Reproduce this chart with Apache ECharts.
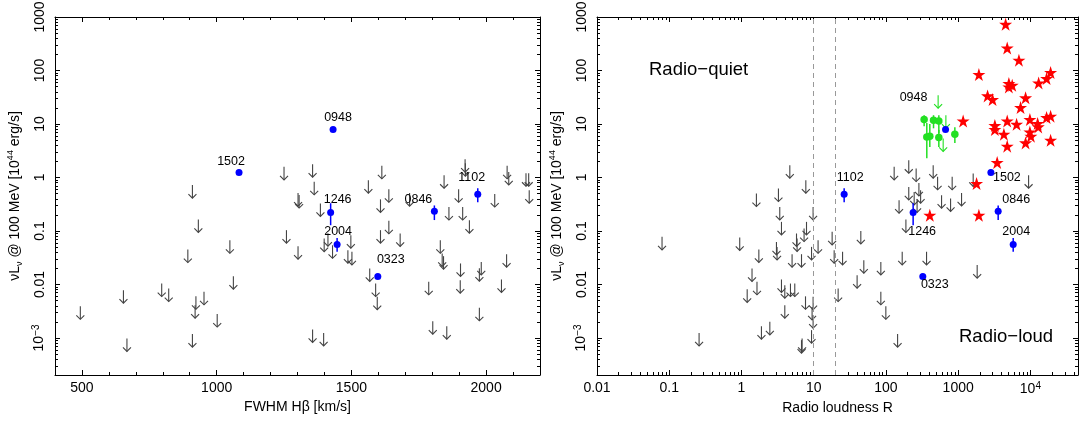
<!DOCTYPE html>
<html>
<head>
<meta charset="utf-8">
<script src="https://cdn.jsdelivr.net/npm/echarts@6/dist/echarts.min.js"></script>
<style>
html, body { margin: 0; padding: 0; background: #fff; }
#chart { width: 1080px; height: 421px; }
</style>
</head>
<body>
<div id="chart"></div>
<script>
var FONT = '"Liberation Sans", Arial, sans-serif';

// tick values / labels
var fwhmTicks = [500, 1000, 1500, 2000];
var lumTicks = [0.001, 0.01, 0.1, 1, 10, 100, 1000];
var lumTickText = ['{p|10}{s|\u22123}', '0.01', '0.1', '1', '10', '100', '1000'];
var rTicks = [0.01, 0.1, 1, 10, 100, 1000, 10000];
var rTickText = ['0.01', '0.1', '1', '10', '100', '1000', '{p|10}{s|4}'];

// labelled sources (blue)
var blueNames = ['0948', '1502', '1102', '1246', '0846', '2004', '0323'];
var blueFwhm = [1432, 1083, 1969, 1423, 1808, 1447, 1598];
var blueR = [669, 2838, 26.4, 238, 3580, 5780, 324];
var blueLum = [7.9, 1.24, 0.487, 0.222, 0.234, 0.056, 0.0141];
var blueLumLo = [null, null, 0.345, 0.128, 0.16, 0.041, null];
var blueLumHi = [null, null, 0.63, 0.33, 0.30, 0.074, null];

// upper limits, left panel
var limFwhm = [910, 1250, 1356, 1362, 1302, 1306, 1613, 1563, 1639, 1608,
    1716, 1844, 1922, 1923, 1898, 2032, 2078, 2084, 2148, 2158,
    2160, 932, 893, 1049, 1062, 796, 822, 654, 923, 953,
    920, 494, 1002, 910, 667, 1385, 1862, 1913, 1938, 1259,
    1302, 1399, 1413, 1430, 1498, 1487, 1502, 1608, 1639, 1681,
    1568, 1590, 1596, 1830, 1837, 1842, 1787, 1905, 1904, 1982,
    1975, 2076, 2057, 1975, 1802, 1854, 1356, 1397];
var limLum = [0.72, 1.58, 1.77, 0.83, 0.51, 0.47, 1.65, 0.89, 0.60, 0.39,
    0.51, 1.10, 2.20, 1.85, 0.60, 0.49, 1.65, 1.27, 1.20, 1.20,
    0.58, 0.164, 0.045, 0.067, 0.0143, 0.0104, 0.0084, 0.0078, 0.0060, 0.0073,
    0.0041, 0.0039, 0.0028, 0.00118, 0.00098, 0.327, 0.28, 0.28, 0.159, 0.1035,
    0.052, 0.072, 0.091, 0.054, 0.0835, 0.0438, 0.0407, 0.1035, 0.155, 0.0898,
    0.0199, 0.0104, 0.0059, 0.067, 0.038, 0.0338, 0.0112, 0.0247, 0.012, 0.0264,
    0.0202, 0.0368, 0.0124, 0.00366, 0.00206, 0.00166, 0.00144, 0.00124];

// upper limits, right panel
var limR = [4.67, 7.78, 1.61, 3.25, 130, 207, 262, 451, 519, 826,
    1614, 9440, 207, 246, 286, 302, 589, 785, 1114, 152,
    270, 3.39, 3.58, 7.95, 5.78, 5.89, 7.36, 0.0795, 0.946, 3.05,
    3.11, 1.74, 5.02, 6.78, 1.40, 1.64, 1.20, 3.58, 3.98, 4.77,
    5.47, 7.70, 3.98, 1.89, 2.47, 0.259, 6.91, 9.81, 11.5, 18.0,
    19.2, 25.1, 44.9, 9.33, 49.4, 85, 39.9, 168, 365, 189,
    1833, 21.8, 9.81, 9.5, 9.81, 85, 99.7, 9.33, 6.78, 145];
var limRLum = [1.70, 0.89, 0.50, 0.62, 1.58, 2.10, 1.47, 1.70, 1.03, 1.03,
    1.19, 1.10, 0.667, 0.538, 0.79, 0.58, 0.467, 0.405, 0.515, 0.377,
    0.388, 0.282, 0.148, 0.148, 0.0898, 0.0724, 0.111, 0.0776, 0.0756, 0.0625,
    0.0504, 0.0451, 0.0368, 0.0368, 0.0199, 0.0112, 0.0081, 0.0124, 0.0097, 0.0104,
    0.0104, 0.0060, 0.0041, 0.00166, 0.0020, 0.00124, 0.00098, 0.282, 0.067, 0.0962,
    0.0438, 0.0407, 0.1004, 0.0504, 0.0285, 0.0264, 0.0149, 0.0407, 0.0407, 0.164,
    0.023, 0.0084, 0.0059, 0.0038, 0.00267, 0.0073, 0.0039, 0.0014, 0.00091, 0.00118];

// radio-loud comparison sample (red stars)
var starR = [4540, 4775, 6935, 1936, 19050, 16760, 13000, 5035, 5600, 5035,
    2553, 2993, 8576, 7310, 1172, 3222, 3222, 4775, 6440, 9840,
    12590, 12830, 16760, 19050, 4296, 9840, 10160, 8576, 4775, 19050,
    3467, 1799, 405, 1936];
var starLum = [733, 264, 156, 84, 91.8, 70.8, 58.6, 57.1, 53.1, 49.3,
    33.5, 28.7, 30.8, 20.3, 11.4, 9.37, 7.89, 11.4, 9.91, 12.1,
    10.2, 8.83, 13.2, 14.0, 6.45, 7.11, 5.92, 4.43, 3.85, 4.98,
    1.91, 0.773, 0.197, 0.197];

// green sample
var greenR = [338, 456, 540, 368, 405, 540, 900];
var greenLum = [12.1, 11.8, 11.4, 5.74, 5.92, 5.6, 6.45];
var greenLo = [9.1, 8.3, 6.7, 2.3, 3.7, 3.7, 4.4];
var greenHi = [14.6, 14.6, 14.6, 10.4, 10.0, 7.7, 8.7];
var greenLimR = [528, 676, 620];
var greenLimLum = [34.5, 14.6, 5.36];

var offL = {'1502': [-8, -11], '0948': [5, -12], '1102': [-6, -17], '1246': [7, -13],
    '0846': [-16, -12], '2004': [1, -13], '0323': [13, -17]};
var offR = {'0948': [-32, -32], '1102': [6, -17], '1502': [16, 5], '0846': [18, -12],
    '1246': [9, 19], '2004': [3, -13], '0323': [12, 8]};

var STAR = 'path://M12,0 L14.7,8.3 L23.4,8.3 L16.4,13.4 L19.1,21.7 L12,16.6 L4.9,21.7 L7.6,13.4 L0.6,8.3 L9.3,8.3 Z';

// minor ticks
var fwhmMinor = [];
for (var f = 500; f < 2200; f += 100) { if (f % 500 !== 0) fwhmMinor.push(f); }
function logMinor(lo, hi) {
    var out = [];
    for (var e = -5; e <= 5; e++) {
        for (var k = 2; k <= 9; k++) {
            var v = k * Math.pow(10, e);
            if (v > lo && v < hi) out.push(v);
        }
    }
    return out;
}
var LUM_MIN = 2.03e-4, LUM_MAX = 1000;
var R_MIN = 0.01, R_MAX = 45600;

function fmtFrom(vals, texts) {
    return function (v) {
        for (var i = 0; i < vals.length; i++) {
            if (Math.abs(v - vals[i]) < vals[i] * 1e-6) return texts[i];
        }
        return '';
    };
}

var tickRich = {
    p: {fontSize: 14, fontFamily: FONT, color: '#000', lineHeight: 16},
    s: {fontSize: 10, fontFamily: FONT, color: '#000', lineHeight: 10, verticalAlign: 'top'}
};
var yName = '{m|\u03bdL}{sb|\u03bd}{m| @ 100 MeV [10}{sp|44}{m| erg/s]}';
var nameRich = {
    m: {fontSize: 14, fontFamily: FONT, color: '#000', lineHeight: 18},
    sb: {fontSize: 9, fontFamily: FONT, color: '#000', lineHeight: 9, verticalAlign: 'bottom'},
    sp: {fontSize: 9, fontFamily: FONT, color: '#000', lineHeight: 10, verticalAlign: 'top'}
};

function frameAxes(gridIndex, dim, type, min, max, major, minor, fmt, name, nameGap) {
    var mainPos = dim === 'x' ? 'bottom' : 'left';
    var oppPos = dim === 'x' ? 'top' : 'right';
    function ax(pos, vals, len, withLabels, withLine) {
        var a = {
            gridIndex: gridIndex, type: type, min: min, max: max, position: pos,
            axisLine: {show: withLine, onZero: false, lineStyle: {color: '#000', width: 1}},
            axisTick: {show: true, inside: true, length: len, customValues: vals,
                lineStyle: {color: '#000', width: 1}},
            axisLabel: {show: false},
            splitLine: {show: false},
            silent: true
        };
        if (type === 'log') a.logBase = 10;
        if (withLabels) {
            a.axisLabel = {
                show: true, customValues: vals, formatter: fmt, fontSize: 14, color: '#000',
                fontFamily: FONT, margin: dim === 'x' ? 6 : 8, rotate: dim === 'y' ? 90 : 0,
                rich: tickRich
            };
            a.name = name;
            a.nameLocation = 'middle';
            a.nameGap = nameGap;
            a.nameTextStyle = dim === 'y'
                ? {rich: nameRich}
                : {fontSize: 14, fontFamily: FONT, color: '#000'};
        }
        return a;
    }
    return [
        ax(mainPos, major, 5, true, true),
        ax(mainPos, minor, 3, false, false),
        ax(oppPos, major, 5, false, true),
        ax(oppPos, minor, 3, false, false)
    ];
}

function renderArrow(params, api) {
    var p = api.coord([api.value(0), api.value(1)]);
    var st = {stroke: api.visual('color'), lineWidth: 1.1, fill: null};
    return {
        type: 'group', children: [
            {type: 'line', shape: {x1: p[0], y1: p[1], x2: p[0], y2: p[1] + 13}, style: st},
            {type: 'polyline', shape: {points: [[p[0] - 4, p[1] + 9], [p[0], p[1] + 13], [p[0] + 4, p[1] + 9]]}, style: st}
        ]
    };
}

function renderBar(params, api) {
    var lo = api.coord([api.value(0), api.value(1)]);
    var hi = api.coord([api.value(0), api.value(2)]);
    return {
        type: 'line', shape: {x1: lo[0], y1: lo[1], x2: hi[0], y2: hi[1]},
        style: {stroke: api.visual('color'), lineWidth: 1.5}
    };
}

function pairs(a, b) {
    return a.map(function (v, i) { return [v, b[i]]; });
}
function blueErr(xs) {
    var out = [];
    for (var i = 0; i < xs.length; i++) {
        if (blueLumLo[i] != null) out.push([xs[i], blueLumLo[i], blueLumHi[i]]);
    }
    return out;
}
function labelled(xs, offsets) {
    return blueNames.map(function (n, i) {
        return {name: n, value: [xs[i], blueLum[i]], label: {offset: offsets[n]}};
    });
}

var blueLabel = {
    show: true, position: 'inside', formatter: '{b}', color: '#000', fontSize: 12.5,
    fontFamily: FONT, textBorderWidth: 0
};

var xAxes = frameAxes(0, 'x', 'value', 400, 2200, fwhmTicks, fwhmMinor,
    fmtFrom(fwhmTicks, fwhmTicks.map(String)), 'FWHM H\u03b2 [km/s]', 25)
    .concat(frameAxes(1, 'x', 'log', R_MIN, R_MAX, rTicks, logMinor(R_MIN, R_MAX),
        fmtFrom(rTicks, rTickText), 'Radio loudness R', 25));
var yAxes = frameAxes(0, 'y', 'log', LUM_MIN, LUM_MAX, lumTicks, logMinor(LUM_MIN, LUM_MAX),
    fmtFrom(lumTicks, lumTickText), yName, 31)
    .concat(frameAxes(1, 'y', 'log', LUM_MIN, LUM_MAX, lumTicks, logMinor(LUM_MIN, LUM_MAX),
        fmtFrom(lumTicks, lumTickText), yName, 31));

var myChart = echarts.init(document.getElementById('chart'));

var option = {
    animation: false,
    backgroundColor: '#fff',
    textStyle: {fontFamily: FONT},
    grid: [
        {left: 55, top: 17, width: 485, height: 358, containLabel: false, outerBoundsMode: 'none'},
        {left: 597, top: 17, width: 481, height: 358, containLabel: false, outerBoundsMode: 'none'}
    ],
    xAxis: xAxes,
    yAxis: yAxes,
    graphic: [
        {type: 'text', left: 649, top: 60, silent: true,
            style: {text: 'Radio\u2212quiet', fontSize: 18.5, fontFamily: FONT, fill: '#000'}},
        {type: 'text', left: 959, top: 327, silent: true,
            style: {text: 'Radio\u2212loud', fontSize: 18.5, fontFamily: FONT, fill: '#000'}}
    ],
    series: [
        // left panel
        {type: 'custom', xAxisIndex: 0, yAxisIndex: 0, renderItem: renderArrow,
            itemStyle: {color: '#444'}, data: pairs(limFwhm, limLum), z: 2},
        {type: 'custom', xAxisIndex: 0, yAxisIndex: 0, renderItem: renderBar,
            encode: {x: 0, y: [1, 2]}, itemStyle: {color: '#0000ff'}, data: blueErr(blueFwhm), z: 3},
        {type: 'scatter', xAxisIndex: 0, yAxisIndex: 0, symbol: 'circle', symbolSize: 7,
            itemStyle: {color: '#0000ff', opacity: 1}, label: blueLabel, data: labelled(blueFwhm, offL), z: 4},
        // right panel
        {type: 'scatter', xAxisIndex: 4, yAxisIndex: 4, symbol: STAR, symbolSize: 13,
            itemStyle: {color: '#ff0000', opacity: 1}, data: pairs(starR, starLum), z: 2,
            markLine: {
                silent: true, symbol: ['none', 'none'], label: {show: false},
                lineStyle: {type: [5, 4], color: '#999', width: 1},
                data: [{xAxis: 10}, {xAxis: 20}]
            }},
        {type: 'custom', xAxisIndex: 4, yAxisIndex: 4, renderItem: renderBar,
            encode: {x: 0, y: [1, 2]}, itemStyle: {color: '#22e022'},
            data: greenR.map(function (r, i) { return [r, greenLo[i], greenHi[i]]; }), z: 3},
        {type: 'custom', xAxisIndex: 4, yAxisIndex: 4, renderItem: renderArrow,
            itemStyle: {color: '#22e022'}, data: pairs(greenLimR, greenLimLum), z: 3},
        {type: 'scatter', xAxisIndex: 4, yAxisIndex: 4, symbol: 'circle', symbolSize: 7.5,
            itemStyle: {color: '#22e022', opacity: 1}, data: pairs(greenR, greenLum), z: 3},
        {type: 'custom', xAxisIndex: 4, yAxisIndex: 4, renderItem: renderArrow,
            itemStyle: {color: '#444'}, data: pairs(limR, limRLum), z: 2},
        {type: 'custom', xAxisIndex: 4, yAxisIndex: 4, renderItem: renderBar,
            encode: {x: 0, y: [1, 2]}, itemStyle: {color: '#0000ff'}, data: blueErr(blueR), z: 4},
        {type: 'scatter', xAxisIndex: 4, yAxisIndex: 4, symbol: 'circle', symbolSize: 7,
            itemStyle: {color: '#0000ff', opacity: 1}, label: blueLabel, data: labelled(blueR, offR), z: 5}
    ]
};

myChart.setOption(option);
</script>
</body>
</html>
